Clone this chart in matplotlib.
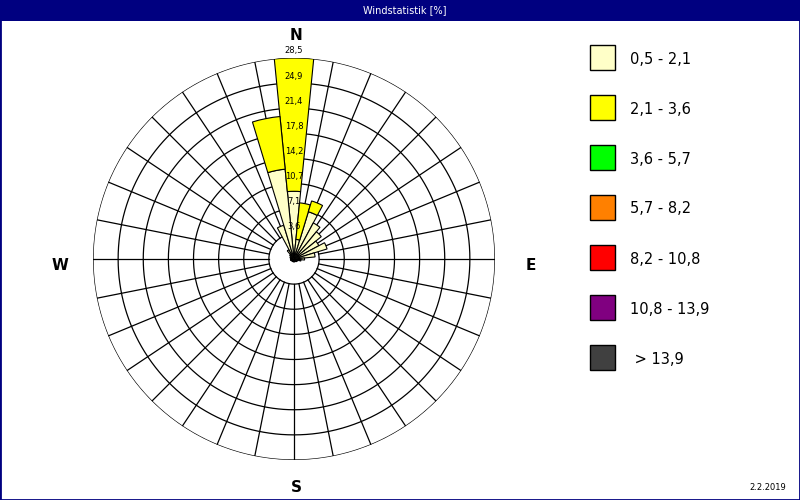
import numpy as np
import matplotlib
matplotlib.use('Agg')
import matplotlib.pyplot as plt
from matplotlib.patches import Rectangle

# wind rose data, 32 sectors of 11.25 deg, clockwise from N
dirs = np.arange(32) * 11.25
class_labels = ['0,5 - 2,1', '2,1 - 3,6', '3,6 - 5,7', '5,7 - 8,2',
                '8,2 - 10,8', '10,8 - 13,9', ' > 13,9']
class_colors = ['#FFFFC8', '#FFFF00', '#00FF00', '#FF8000',
                '#FF0000', '#800080', '#404040']
speed_05_21 = [9.6, 2.8, 7.0, 5.8, 5.0, 4.0, 4.9, 3.0,
               1.5, 1.0, 0.6, 0.5, 0.5, 0.4, 0.4, 0.4,
               0.4, 0.4, 0.4, 0.4, 0.4, 0.4, 0.5, 0.5,
               0.5, 0.5, 0.6, 0.6, 0.8, 1.5, 5.0, 12.8]
speed_21_36 = [18.9, 5.2, 1.6, 0, 0, 0, 0, 0,
               0, 0, 0, 0, 0, 0, 0, 0,
               0, 0, 0, 0, 0, 0, 0, 0,
               0, 0, 0, 0, 0, 0, 0, 7.5]
zeros = [0] * 32
series = [speed_05_21, speed_21_36, zeros, zeros, zeros, zeros, zeros]
ring_vals = [3.5625 * k for k in range(1, 9)]
ring_labels = ['3,6', '7,1', '10,7', '14,2', '17,8', '21,4', '24,9', '28,5']
rmax = 28.5
title = 'Windstatistik [%]'
date = '2.2.2019'

navy = '#000080'
W, H = 800, 500
fig = plt.figure(figsize=(8, 5), dpi=100)
fig.patch.set_facecolor('white')

ax = fig.add_axes([0.11625, 0.080, 0.5025, 0.804], projection='polar')
ax.set_theta_zero_location('N')
ax.set_theta_direction(-1)
ax.set_ylim(0, rmax)
ax.set_axis_off()

theta = np.deg2rad(dirs)
width = np.deg2rad(11.25)

# grid: rings and spokes (nothing inside the first ring)
circ = np.linspace(0, 2 * np.pi, 721)
for v in ring_vals:
    ax.plot(circ, np.full_like(circ, v), color='black', lw=0.9, zorder=1)
for t in theta:
    ax.plot([t, t], [ring_vals[0], rmax], color='black', lw=0.9, zorder=1)

# stacked bars
bottom = np.zeros(32)
for vals, col in zip(series, class_colors):
    vals = np.array(vals, dtype=float)
    m = vals > 0
    if m.any():
        ax.bar(theta[m], vals[m], width=width, bottom=bottom[m], color=col,
               edgecolor='black', linewidth=0.8, zorder=3)
    bottom += vals

for v, lab in zip(ring_vals, ring_labels):
    ax.text(0, v + 1.0, lab, ha='center', va='center', fontsize=6, zorder=5)

# compass letters
fig.text(296 / W, 1 - 36 / H, 'N', ha='center', va='center', fontsize=11, fontweight='bold')
fig.text(60 / W, 1 - 265 / H, 'W', ha='center', va='center', fontsize=11, fontweight='bold')
fig.text(531 / W, 1 - 265 / H, 'E', ha='center', va='center', fontsize=11, fontweight='bold')
fig.text(296 / W, 1 - 488 / H, 'S', ha='center', va='center', fontsize=11, fontweight='bold')

# title bar and frame
fig.add_artist(Rectangle((0, 1 - 21 / H), 1, 21 / H, transform=fig.transFigure,
                         facecolor=navy, edgecolor='none', zorder=0))
fig.add_artist(Rectangle((0, 0), 1, 1, transform=fig.transFigure,
                         fill=False, edgecolor=navy, lw=2))
fig.text(0.506, 1 - 10 / H, title, color='white', ha='center', va='center', fontsize=7)
fig.text(768 / W, 1 - 488 / H, date, ha='center', va='center', fontsize=6)

# legend: boxes 25px, 50px apart
box = 25
for i, (lab, col) in enumerate(zip(class_labels, class_colors)):
    yc = 57.5 + 50 * i
    fig.add_artist(Rectangle((590 / W, 1 - (yc + box / 2) / H), box / W, box / H,
                             transform=fig.transFigure, facecolor=col,
                             edgecolor='black', lw=1))
    fig.text(630 / W, 1 - (yc + 1.5) / H, lab, ha='left', va='center', fontsize=10.5)

fig.savefig('out.png', dpi=100)
